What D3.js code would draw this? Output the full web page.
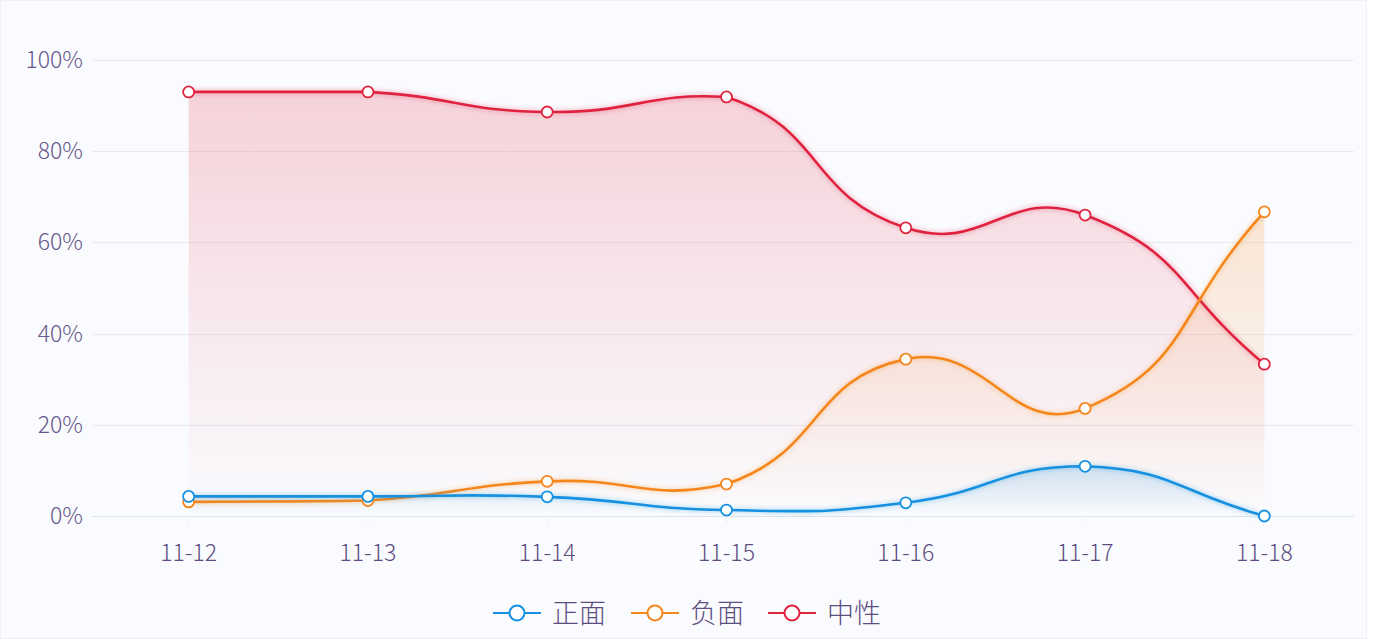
<!DOCTYPE html>
<html>
<head>
<meta charset="utf-8">
<script src="https://cdn.jsdelivr.net/npm/d3@7/dist/d3.min.js"></script>
<style>
  html, body { margin: 0; padding: 0; background: #fff; }
  svg { display: block; }
  text { font-family: "Noto Sans CJK SC", "Noto Sans", sans-serif; font-weight: 300; }
</style>
</head>
<body>
<svg id="chart" width="1374" height="640"></svg>
<script>
// data
var dates = ["11-12", "11-13", "11-14", "11-15", "11-16", "11-17", "11-18"];
var positive = [4.3, 4.3, 4.2, 1.3, 2.9, 10.9, 0];
var negative = [3.1, 3.4, 7.6, 7.0, 34.4, 23.6, 66.7];
var neutral = [93.0, 93.0, 88.6, 91.9, 63.2, 66.0, 33.3];
var yTicks = [0, 20, 40, 60, 80, 100];

var seriesNames = ["正面", "负面", "中性"];
var seriesColors = ["#1690e0", "#f5861d", "#e0233f"];
var seriesData = [positive, negative, neutral];

var W = 1374, H = 640;
var margin = {left: 99, right: 20, top: 60, bottom: 124};

var svg = d3.select("#chart");

svg.append("rect")
    .attr("x", 0.5).attr("y", 0.5)
    .attr("width", W - 8).attr("height", H - 2)
    .attr("fill", "#fafbfe")
    .attr("stroke", "#f0f1f5");

var x = d3.scaleBand()
    .domain(dates)
    .range([margin.left, W - margin.right]);

var y = d3.scaleLinear()
    .domain([0, 100])
    .range([H - margin.bottom, margin.top]);

// smooth bezier like the echarts line, control points kept inside the bbox of the series
function smoothPath(pts, s) {
    var n = pts.length;
    var minY = d3.min(pts, function(p) { return p[1]; });
    var maxY = d3.max(pts, function(p) { return p[1]; });
    var minX = pts[0][0], maxX = pts[n - 1][0];
    function clamp(c) {
        return [Math.max(minX, Math.min(maxX, c[0])), Math.max(minY, Math.min(maxY, c[1]))];
    }
    var cpIn = [], cpOut = [];
    for (var i = 0; i < n; i++) {
        var cur = pts[i];
        var prev = i > 0 ? pts[i - 1] : cur;
        var next = i < n - 1 ? pts[i + 1] : cur;
        var vx = (next[0] - prev[0]) * s, vy = (next[1] - prev[1]) * s;
        var d0 = Math.hypot(cur[0] - prev[0], cur[1] - prev[1]);
        var d1 = Math.hypot(next[0] - cur[0], next[1] - cur[1]);
        var r = d1 / (d0 + d1);
        cpIn.push(clamp([cur[0] - vx * (1 - r), cur[1] - vy * (1 - r)]));
        cpOut.push(clamp([cur[0] + vx * r, cur[1] + vy * r]));
    }
    var p = d3.path();
    p.moveTo(pts[0][0], pts[0][1]);
    for (var j = 1; j < n; j++) {
        p.bezierCurveTo(cpOut[j - 1][0], cpOut[j - 1][1], cpIn[j][0], cpIn[j][1], pts[j][0], pts[j][1]);
    }
    return p.toString();
}

var defs = svg.append("defs");

seriesColors.forEach(function(c, i) {
    var g = defs.append("linearGradient")
        .attr("id", "grad" + i)
        .attr("x1", "0").attr("y1", "0")
        .attr("x2", "0").attr("y2", "1");
    g.append("stop").attr("offset", "0%").attr("stop-color", c).attr("stop-opacity", 0.19);
    g.append("stop").attr("offset", "100%").attr("stop-color", c).attr("stop-opacity", 0.0);

    var f = defs.append("filter")
        .attr("id", "glow" + i)
        .attr("x", "-5%").attr("y", "-20%")
        .attr("width", "110%").attr("height", "140%");
    f.append("feDropShadow")
        .attr("dx", 0).attr("dy", 0)
        .attr("stdDeviation", 2.5)
        .attr("flood-color", c)
        .attr("flood-opacity", 0.45);
});

// grid lines
svg.append("g")
    .selectAll("line")
    .data(yTicks)
    .enter()
    .append("line")
    .attr("x1", margin.left - 7)
    .attr("x2", W - margin.right)
    .attr("y1", function(d) { return Math.round(y(d)) + 0.5; })
    .attr("y2", function(d) { return Math.round(y(d)) + 0.5; })
    .attr("stroke", function(d) { return d == 0 ? "#dfe2ea" : "#e8eaf0"; })
    .attr("stroke-width", 1);

// y labels
svg.append("g")
    .selectAll("text")
    .data(yTicks)
    .enter()
    .append("text")
    .attr("x", 83)
    .attr("y", function(d) { return y(d); })
    .attr("dy", "0.35em")
    .attr("text-anchor", "end")
    .attr("fill", "#67578b")
    .attr("font-size", 23)
    .text(function(d) { return d + "%"; });

// x axis labels and ticks
var xAxis = d3.axisBottom(x).tickSize(7).tickPadding(22);
var gx = svg.append("g")
    .attr("transform", "translate(0," + y(0) + ")")
    .call(xAxis);
gx.select(".domain").remove();
gx.selectAll(".tick line").attr("stroke", "#eceef3");
gx.selectAll(".tick text")
    .attr("fill", "#5d4d80")
    .attr("font-size", 23)
    .attr("font-weight", 300)
    .attr("font-family", "\"Noto Sans CJK SC\", sans-serif");

function cx(i) { return x(dates[i]) + x.bandwidth() / 2; }

// areas, drawn back to front
var order = [2, 1, 0];
order.forEach(function(si) {
    var vals = seriesData[si];
    var pts = vals.map(function(v, i) { return [cx(i), y(v)]; });
    var top = smoothPath(pts, 0.5);
    var area = top + "L" + cx(vals.length - 1) + "," + y(0) + "L" + cx(0) + "," + y(0) + "Z";
    svg.append("path")
        .attr("d", area)
        .attr("fill", "url(#grad" + si + ")");
});

order.forEach(function(si) {
    var vals = seriesData[si];
    var pts = vals.map(function(v, i) { return [cx(i), y(v)]; });
    svg.append("path")
        .attr("d", smoothPath(pts, 0.5))
        .attr("fill", "none")
        .attr("stroke", seriesColors[si])
        .attr("stroke-width", 2.6)
        .attr("filter", "url(#glow" + si + ")");
});

order.forEach(function(si) {
    svg.append("g")
        .selectAll("circle")
        .data(seriesData[si])
        .enter()
        .append("circle")
        .attr("cx", function(d, i) { return cx(i); })
        .attr("cy", function(d) { return y(d); })
        .attr("r", 5.5)
        .attr("fill", "#fff")
        .attr("stroke", seriesColors[si])
        .attr("stroke-width", 1.8);
});

// legend
var legendX = [493, 631, 768];
var legend = svg.append("g");
seriesNames.forEach(function(name, i) {
    var g = legend.append("g").attr("transform", "translate(" + legendX[i] + ",613)");
    g.append("line")
        .attr("x1", 0).attr("x2", 48)
        .attr("stroke", seriesColors[i])
        .attr("stroke-width", 2.2);
    g.append("circle")
        .attr("cx", 24).attr("cy", 0).attr("r", 7.5)
        .attr("fill", "#fff")
        .attr("stroke", seriesColors[i])
        .attr("stroke-width", 2);
    g.append("text")
        .attr("x", 59).attr("y", 0)
        .attr("dy", "0.36em")
        .attr("fill", "#5d4d80")
        .attr("font-size", 27)
        .text(name);
});
</script>
</body>
</html>
